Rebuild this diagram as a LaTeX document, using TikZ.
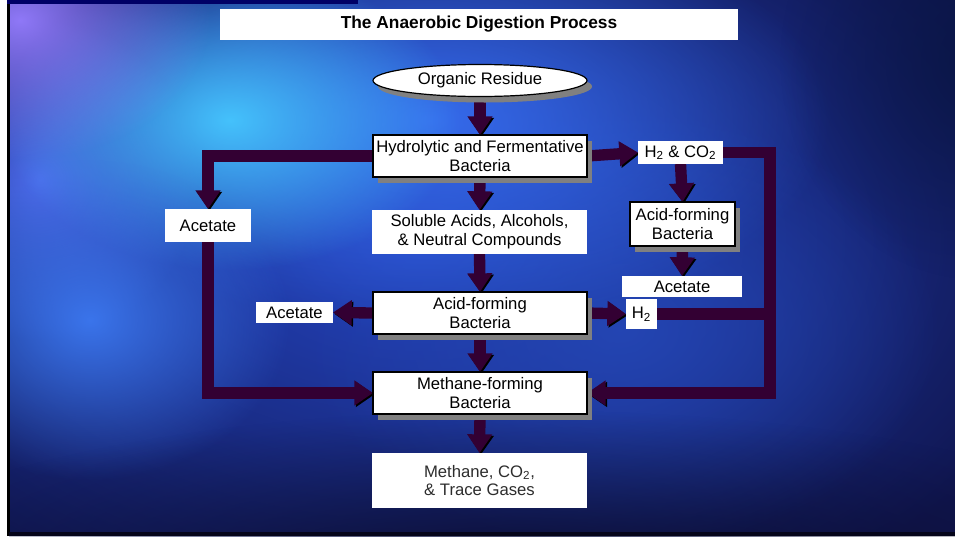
\documentclass[tikz,border=0pt]{standalone}
\usepackage{fontspec}
\setmainfont{Liberation Sans}
\usetikzlibrary{arrows.meta,shapes.geometric,fadings,shadows,calc}
\tikzfading[name=glow, inner color=transparent!5, outer color=transparent!100]
\definecolor{barpurple}{HTML}{330033}
\definecolor{shadowgray}{HTML}{808080}
\definecolor{basenavy}{HTML}{101650}
\pgfdeclarelayer{bg}
\pgfdeclarelayer{arr}
\pgfsetlayers{bg,arr,main}
\begin{document}
\begin{tikzpicture}[x=0.75pt,y=-0.75pt,
  lbl/.style={font=\fontsize{12.5}{14}\selectfont, text=black, align=center, inner sep=0pt, outer sep=0pt},
  plainbox/.style={lbl, fill=white},
  framedbox/.style={lbl, fill=white, draw=black, line width=0.9pt,
     drop shadow={shadow xshift=3.75pt, shadow yshift=-4.5pt, fill=shadowgray, opacity=1}},
  bline/.style={draw=barpurple, line width=8.5pt, line join=miter,
     preaction={draw=black, transform canvas={xshift=1.1pt,yshift=-1.1pt}}},
  barrow/.style={bline, -{Triangle[width=18pt,length=14pt]}},
]
\useasboundingbox (0,0) rectangle (955,536);

% ---------- background ----------
\begin{pgfonlayer}{bg}
  \fill[white] (0,0) rectangle (955,536);
  \begin{scope}
    \clip (9,0) rectangle (955,536);
    \fill[basenavy] (9,0) rectangle (955,536);
    \fill[color={rgb,255:red,38;green,72;blue,200}, path fading=glow] (420,240) ellipse (680 and 420);
    \fill[color={rgb,255:red,36;green,70;blue,180}, path fading=glow] (620,330) ellipse (320 and 220);
    \fill[color={rgb,255:red,55;green,110;blue,240}, path fading=glow] (430,120) ellipse (400 and 210);
    \fill[color={rgb,255:red,80;green,110;blue,240}, path fading=glow] (40,180) ellipse (160 and 160);
    \fill[color={rgb,255:red,70;green,200;blue,255}, path fading=glow] (230,120) ellipse (230 and 150);
    \fill[color={rgb,255:red,150;green,125;blue,255}, path fading=glow] (20,20) ellipse (190 and 140);
    \fill[color={rgb,255:red,60;green,120;blue,240}, path fading=glow] (90,320) ellipse (200 and 160);
    \fill[color={rgb,255:red,10;green,10;blue,40}, path fading=glow] (520,600) ellipse (700 and 190);
    \fill[color={rgb,255:red,10;green,22;blue,70}, path fading=glow] (980,60) ellipse (200 and 220);
  \end{scope}
  \fill[black] (7,0) rectangle (10,536);
  \fill[color={rgb,255:red,0;green,0;blue,102}] (7,0) rectangle (358,4);
  \fill[color={rgb,255:red,5;green,5;blue,26}] (9,532) rectangle (955,536);
\end{pgfonlayer}

% ---------- nodes ----------
\node[plainbox, font=\fontsize{13}{15}\selectfont\bfseries, minimum width=388.5pt, minimum height=23.25pt]
  (title) at (479,24.5) {The Anaerobic Digestion Process};
\node[framedbox, ellipse, minimum width=160.5pt, minimum height=24pt]
  (res) at (480,80.5) {Organic Residue};
\node[framedbox, minimum width=160.5pt, minimum height=31.5pt]
  (hyd) at (480,156) {Hydrolytic and Fermentative\\Bacteria};
\node[plainbox, minimum width=161.25pt, minimum height=33pt]
  (sol) at (479.5,232) {Soluble Acids, Alcohols,\\\& Neutral Compounds};
\node[framedbox, minimum width=160.5pt, minimum height=31.5pt]
  (acm) at (480,313) {Acid-forming\\Bacteria};
\node[framedbox, minimum width=160.5pt, minimum height=31.5pt]
  (meth) at (480,393) {Methane-forming\\Bacteria};
\node[plainbox, text={rgb,255:red,45;green,45;blue,45}, minimum width=161.25pt, minimum height=41.25pt]
  (gas) at (479.5,480.5) {Methane, CO\textsubscript{2},\\\& Trace Gases};
\node[plainbox, minimum width=63.75pt, minimum height=17.25pt]
  (h2co2) at (680.5,152.5) {H\textsubscript{2} \& CO\textsubscript{2}};
\node[framedbox, minimum width=78.75pt, minimum height=33pt]
  (acr) at (682.5,224) {Acid-forming\\Bacteria};
\node[plainbox, minimum width=90pt, minimum height=15.75pt]
  (acetR) at (682,286.5) {Acetate};
\node[plainbox, minimum width=23.25pt, minimum height=22.5pt]
  (h2) at (641.5,314) {H\textsubscript{2}};
\node[plainbox, minimum width=64.5pt, minimum height=24.75pt]
  (acetL) at (208,225.5) {Acetate};
\node[plainbox, minimum width=57.75pt, minimum height=15.75pt]
  (acetM) at (294.5,312.5) {Acetate};
\coordinate (rb) at (770,0);

% ---------- connectors ----------
\begin{pgfonlayer}{arr}
  \draw[barrow] (res.south) -- (hyd.north);
  \draw[barrow] (hyd.south) -- (sol.north);
  \draw[barrow] (sol.south) -- (acm.north);
  \draw[barrow] (acm.south) -- (meth.north);
  \draw[barrow] (meth.south) -- (gas.north);
  \draw[barrow] (hyd.east) -- (h2co2.west);
  \draw[barrow] (h2co2.south) -- (acr.north);
  \draw[barrow] (acr.south) -- (acetR.north);
  \draw[barrow] (acm.west) -- (acetM.east);
  \draw[barrow] (acm.east) -- (h2.west);
  \draw[barrow] (hyd.west) -| (acetL.north);
  \draw[barrow] (acetL.south) |- (meth.west);
  \draw[bline] (h2.east) -- (h2.east -| rb);
  \draw[barrow] (h2co2.east) -| (rb |- meth.east) -- (meth.east);
\end{pgfonlayer}
\end{tikzpicture}
\end{document}
